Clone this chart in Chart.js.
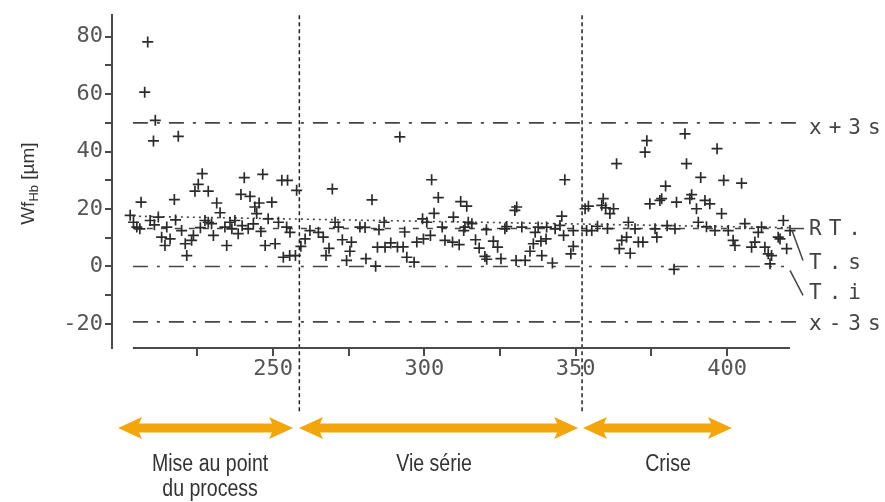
<!DOCTYPE html>
<html><head><meta charset="utf-8">
<script src="https://cdn.jsdelivr.net/npm/chart.js@4"></script>
<style>html,body{margin:0;padding:0;background:#fff}#wrap{width:885px;height:502px;position:relative}</style>
</head><body><div id="wrap"><canvas id="c"></canvas></div>
<script>
// ---- data ----
const devX=[208.6,207.6,211.1,210.5,218.7,226.6,225.3,224.2,228.6,240.5,246.6,252.9,254.8,257.8,206.4,217.4,239.4,242.4,245.4,249.6,231.4,232.5,244.0,244.6,202.8,203.9,205.0,206.0,209.4,212.1,214.9,213.2,216.0,214.3,219.8,221.0,223.7,221.5,223.1,227.5,228.6,229.7,230.3,234.1,235.8,234.7,236.4,237.4,238.5,241.8,248.4,251.8,247.4,250.7,253.4,254.5,255.6,255.5,257.4,210.8,217.8,226.0,239.8,243.5,246.0];
const devY=[78.2,60.7,50.9,43.7,45.3,32.3,28.6,26.2,26.2,30.9,32.1,30.0,30.0,26.5,22.4,23.3,25.1,24.4,22.1,22.4,22.1,18.7,20.7,18.4,17.8,15.4,13.7,13.1,16.0,17.2,13.7,10.2,9.6,7.3,12.5,7.9,10.8,3.8,9.1,16.0,15.4,14.9,10.8,13.7,15.4,7.3,13.1,16.0,11.4,13.1,16.6,15.4,7.3,7.9,3.2,13.7,11.9,3.8,3.8,14.5,16.2,13.5,14.2,14.8,12.2];
const serieX=[269.6,282.7,291.9,302.4,304.6,303.2,312.0,314.0,330.5,329.9,345.4,346.4,262.2,265.0,270.5,271.6,278.7,280.4,286.7,299.4,300.8,305.9,309.6,313.4,314.5,315.7,313.0,326.6,327.2,332.2,336.6,337.6,340.4,343.2,344.8,349.2,346.0,259.2,260.6,266.6,268.5,267.5,272.9,275.9,275.4,274.3,280.7,283.9,284.5,287.0,288.9,291.1,293.0,294.2,296.6,297.5,299.7,302.0,306.8,309.3,311.5,316.9,318.1,320.0,320.6,322.8,324.2,325.3,330.3,333.3,334.9,336.0,338.5,338.8,340.2,342.3,348.4,349.2,285.0,293.5,320.5];
const serieY=[27.0,23.2,45.1,30.2,24.0,18.5,22.6,21.0,20.7,19.5,17.5,30.2,12.5,11.9,15.4,13.7,13.7,13.6,15.4,16.6,15.4,13.7,17.2,13.7,15.4,14.9,12.5,13.1,13.9,13.7,11.9,13.7,13.7,13.1,14.3,12.5,10.8,7.0,9.6,10.2,6.3,3.8,9.3,8.5,5.3,2.1,2.7,0.1,6.7,6.7,8.2,6.8,6.8,3.2,1.5,8.5,9.6,10.8,9.1,8.5,7.6,9.3,6.4,3.5,2.5,8.8,6.7,2.7,2.1,2.1,5.3,7.9,8.8,3.8,9.6,1.2,4.4,7.0,12.8,12.0,12.8];
const criseX=[353.1,354.2,353.6,355.3,359.1,358.6,359.9,361.3,362.5,363.5,364.4,365.2,366.8,367.4,368.0,369.6,370.7,372.2,372.9,373.5,374.5,376.2,376.8,377.8,378.4,379.7,382.5,382.8,383.3,386.1,386.6,387.7,388.3,389.9,390.5,391.3,392.7,394.3,396.7,398.2,398.9,396.0,400.4,402.0,402.6,404.8,405.9,408.1,409.2,410.3,411.4,412.5,413.6,414.7,414.2,416.9,417.5,418.6,419.7,420.8,357.2,360.5,380.2,393.2];
const criseY=[20.1,21.0,12.5,12.5,23.6,21.3,20.4,18.4,20.1,35.8,6.2,9.1,10.2,15.4,4.6,13.1,8.5,8.5,39.8,43.8,21.8,13.1,10.2,23.0,23.6,28.0,-1.0,13.1,22.4,46.2,35.8,23.6,25.0,20.1,15.4,31.0,23.0,21.8,41.0,18.4,30.0,12.5,12.5,9.1,7.3,29.0,14.9,6.7,8.5,11.9,13.7,6.7,4.4,3.8,0.9,10.2,9.6,16.0,6.2,12.5,14.0,13.2,14.2,13.8];

// reference lines (µm) and labels
const refNames=['x+3s','RT.','T.s','T.i','x-3s'];
const limitHigh=50, limitLow=-19.3, tolSup=13.2, tolInf=0;
const rtStart=17.5, rtEnd=13.5;
const xStart=203.7, xEnd=420.8;
const phaseBreaks=[258.7,352.1];
const phaseNames=[['Mise au point','du process'],['Vie série'],['Crise']];
const phaseArrows=[[198.8,256.6],[258.6,350.8],[352.4,401.6]];
const phaseLabelX=[229.2,303.2,380.5];
const yTitle=['Wf','Hb',' [µm]'];

function pts(xs,ys){return xs.map((x,i)=>({x:x,y:ys[i]}));}
const ink='#2b2b2b', axisCol='#4a4a4a';

const deco={
  id:'deco',
  beforeDatasetsDraw(chart){
    const {ctx,chartArea:a,scales:{x,y}}=chart;
    ctx.save();
    ctx.strokeStyle='#454545'; ctx.lineWidth=1.6;
    const L=x.getPixelForValue(xStart), R=x.getPixelForValue(xEnd);
    const hline=(v,dash,x0,x1)=>{ctx.setLineDash(dash);ctx.beginPath();const py=y.getPixelForValue(v);ctx.moveTo(x0,py);ctx.lineTo(x1,py);ctx.stroke();};
    const dd=[15,9,3,9];
    hline(limitHigh,dd,L,a.right+2);
    hline(limitLow,dd,L,a.right+2);
    hline(tolInf,dd,L,R-6);
    hline(tolSup,[6,8],L,R);
    ctx.setLineDash([2,4]);ctx.beginPath();
    ctx.moveTo(L,y.getPixelForValue(rtStart));ctx.lineTo(R,y.getPixelForValue(rtEnd));ctx.stroke();
    // phase dividers
    ctx.setLineDash([4,3]);ctx.lineWidth=1.5;ctx.strokeStyle='#222';
    phaseBreaks.forEach(v=>{const px=x.getPixelForValue(v);ctx.beginPath();ctx.moveTo(px,a.top);ctx.lineTo(px,a.bottom+65);ctx.stroke();});
    ctx.restore();
  },
  afterDraw(chart){
    const {ctx,chartArea:a,scales:{x,y}}=chart;
    ctx.save();
    // x axis line
    ctx.strokeStyle=axisCol;ctx.lineWidth=2;ctx.beginPath();
    ctx.moveTo(x.getPixelForValue(xStart),a.bottom);ctx.lineTo(x.getPixelForValue(xEnd),a.bottom);ctx.stroke();
    // right labels
    ctx.fillStyle='#444';ctx.font='21px "DejaVu Sans Mono"';ctx.letterSpacing='7px';
    ctx.textBaseline='middle';ctx.textAlign='left';
    const lx=a.right+9;
    const labY=[y.getPixelForValue(limitHigh)+6,y.getPixelForValue(tolSup)+1,y.getPixelForValue(tolSup)+35,y.getPixelForValue(tolInf)+27,y.getPixelForValue(limitLow)+3];
    refNames.forEach((t,i)=>ctx.fillText(t,lx,labY[i]));
    ctx.letterSpacing='0px';
    // leaders
    ctx.strokeStyle='#444';ctx.lineWidth=1.5;ctx.setLineDash([]);
    const ts=y.getPixelForValue(tolSup), ti=y.getPixelForValue(tolInf);
    ctx.beginPath();ctx.moveTo(a.right-10,ts);ctx.lineTo(a.right+4,ts);ctx.stroke();
    ctx.beginPath();ctx.moveTo(a.right-8,ts+2);ctx.lineTo(a.right+3,ts+32);ctx.stroke();
    ctx.beginPath();ctx.moveTo(a.right-10,ti+4);ctx.lineTo(a.right+3,ti+29);ctx.stroke();
    // arrows
    const yc=a.bottom+80, sh=4.5, hh=11, hl=24;
    ctx.fillStyle='#f2a60c';
    phaseArrows.forEach(([v0,v1])=>{
      const xa=x.getPixelForValue(v0), xb=x.getPixelForValue(v1);
      ctx.beginPath();
      ctx.moveTo(xa,yc);ctx.lineTo(xa+hl,yc-hh);ctx.lineTo(xa+hl-3,yc-sh);ctx.lineTo(xb-hl+3,yc-sh);
      ctx.lineTo(xb-hl,yc-hh);ctx.lineTo(xb,yc);ctx.lineTo(xb-hl,yc+hh);ctx.lineTo(xb-hl+3,yc+sh);
      ctx.lineTo(xa+hl-3,yc+sh);ctx.lineTo(xa+hl,yc+hh);ctx.closePath();ctx.fill();
    });
    // phase names
    ctx.fillStyle='#333';ctx.font='23px "Liberation Sans"';ctx.textAlign='center';ctx.textBaseline='middle';
    phaseNames.forEach((lines,i)=>{
      const cx=x.getPixelForValue(phaseLabelX[i]);
      lines.forEach((t,j)=>{ctx.save();ctx.translate(cx,a.bottom+117+j*25);ctx.scale(0.85,1);ctx.fillText(t,0,0);ctx.restore();});
    });
    // y title with subscript
    ctx.save();
    ctx.translate(34,(a.top+a.bottom)/2+2);ctx.rotate(-Math.PI/2);
    ctx.fillStyle='#333';ctx.textAlign='left';ctx.textBaseline='alphabetic';
    const f1='19px "Liberation Sans"', f2='13px "Liberation Sans"';
    ctx.font=f1;const w1=ctx.measureText(yTitle[0]).width, w3=ctx.measureText(yTitle[2]).width;
    ctx.font=f2;const w2=ctx.measureText(yTitle[1]).width;
    let sx=-(w1+w2+w3)/2;
    ctx.font=f1;ctx.fillText(yTitle[0],sx,0);sx+=w1;
    ctx.font=f2;ctx.fillText(yTitle[1],sx,4);sx+=w2;
    ctx.font=f1;ctx.fillText(yTitle[2],sx,0);
    ctx.restore();
    ctx.restore();
  }
};

const ptStyle={pointStyle:'cross',pointRadius:5.5,pointBorderWidth:1.7,borderColor:ink,backgroundColor:ink,showLine:false};
new Chart(document.getElementById('c'),{
  type:'scatter',
  data:{datasets:[
    Object.assign({label:'Mise au point',data:pts(devX,devY)},ptStyle),
    Object.assign({label:'Vie série',data:pts(serieX,serieY)},ptStyle),
    Object.assign({label:'Crise',data:pts(criseX,criseY)},ptStyle)
  ]},
  options:{
    responsive:true,maintainAspectRatio:false,animation:false,
    layout:{padding:{top:13,right:85,left:0,bottom:0}},
    plugins:{legend:{display:false},tooltip:{enabled:false}},
    scales:{
      x:{type:'linear',min:196.8,max:424.1,
        afterFit(s){s.height=154;},
        afterBuildTicks(s){s.ticks=s.ticks.filter(t=>t.value>=205&&t.value<=421);},
        border:{display:false},
        grid:{drawOnChartArea:false,drawTicks:true,tickLength:8,color:axisCol,lineWidth:2},
        ticks:{stepSize:25,includeBounds:false,autoSkip:false,maxRotation:0,padding:0,color:'#555',
          font:{family:'DejaVu Sans Mono',size:22},
          callback:v=>(v%50===0?String(v):'')}
      },
      y:{type:'linear',min:-28.4,max:87.5,
        afterFit(s){s.width=112;},
        border:{display:true,color:axisCol,width:2},
        grid:{drawOnChartArea:false,drawTicks:true,tickLength:7,color:axisCol,lineWidth:2},
        ticks:{stepSize:10,includeBounds:false,autoSkip:false,padding:2,color:'#555',
          font:{family:'DejaVu Sans Mono',size:22},
          callback:v=>(v%20===0?String(v):'')}
      }
    }
  },
  plugins:[deco]
});
</script></body></html>
